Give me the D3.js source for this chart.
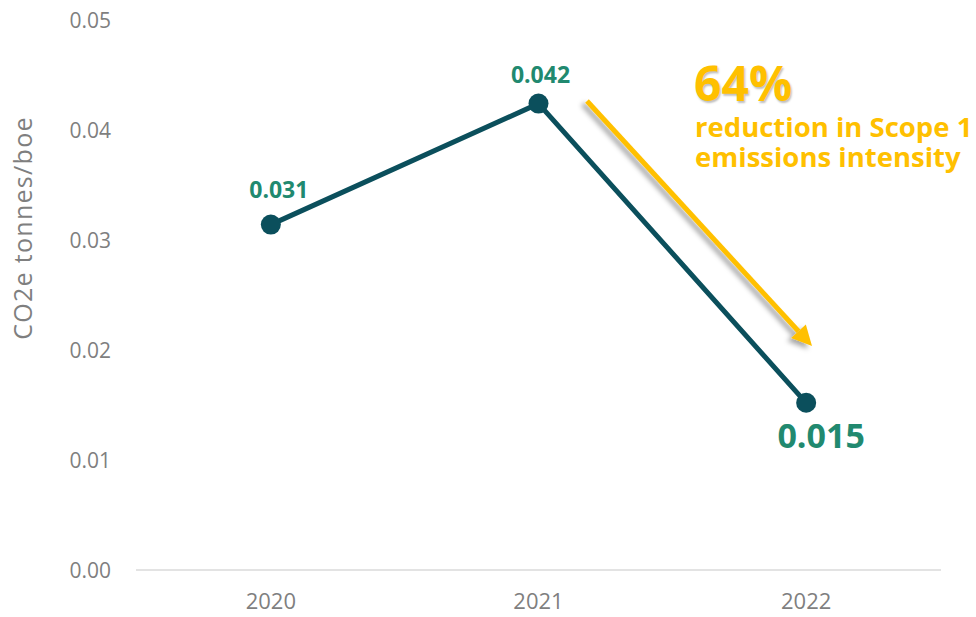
<!DOCTYPE html>
<html>
<head>
<meta charset="utf-8">
<script src="https://cdn.jsdelivr.net/npm/d3@7"></script>
<style>
  html, body { margin: 0; padding: 0; background: #fff; }
  svg { display: block; font-family: "Open Sans", "Noto Sans", sans-serif; }
</style>
</head>
<body>
<svg id="chart" width="976" height="617"></svg>
<script>
// Scope 1 emissions intensity by year
const years = ["2020", "2021", "2022"];
const intensity = [0.0314, 0.0424, 0.0152];
const yTicks = [0, 0.01, 0.02, 0.03, 0.04, 0.05];
const yTitle = "CO2e tonnes/boe";
const calloutPct = "64%";
const calloutLines = ["reduction in Scope 1", "emissions intensity"];

const svg = d3.select("#chart");
const defs = svg.append("defs");

const x = d3.scaleBand().domain(years).range([137, 940]);
const y = d3.scaleLinear().domain([0, 0.05]).range([570, 20]);
const cx = d => x(d) + x.bandwidth() / 2;

// baseline
svg.append("line")
  .attr("x1", 136).attr("x2", 941)
  .attr("y1", y(0)).attr("y2", y(0))
  .attr("stroke", "#e3e3e3").attr("stroke-width", 2);

// y axis labels
const yAxis = svg.append("g")
  .attr("transform", "translate(111,0)")
  .call(d3.axisLeft(y).tickValues(yTicks).tickFormat(d3.format(".2f")).tickSize(0).tickPadding(0));
yAxis.select(".domain").remove();
yAxis.attr("font-size", null).attr("font-family", null);
yAxis.selectAll("text")
  .attr("fill", "#7f7f7f").style("font-size", "21px").attr("dy", "0.34em");

// x axis labels
const xAxis = svg.append("g")
  .attr("transform", `translate(0,${y(0)})`)
  .call(d3.axisBottom(x).tickSize(0).tickPadding(23));
xAxis.select(".domain").remove();
xAxis.attr("font-size", null).attr("font-family", null);
xAxis.selectAll("text")
  .attr("fill", "#7f7f7f").style("font-size", "22px");

// y title
svg.append("text")
  .attr("transform", `translate(32,${228}) rotate(-90)`)
  .attr("text-anchor", "middle")
  .attr("fill", "#7f7f7f").style("font-size", "25px").style("letter-spacing", "1.3px")
  .text(yTitle);

// shadow for the callout arrow
const sh = defs.append("filter").attr("id", "shadow")
  .attr("x", "-20%").attr("y", "-20%").attr("width", "140%").attr("height", "140%");
sh.append("feDropShadow").attr("dx", -4).attr("dy", 3).attr("stdDeviation", 2.5)
  .attr("flood-color", "#000").attr("flood-opacity", 0.35);

const tsh = defs.append("filter").attr("id", "tshadow")
  .attr("x", "-10%").attr("y", "-10%").attr("width", "120%").attr("height", "130%");
tsh.append("feDropShadow").attr("dx", 1).attr("dy", 2).attr("stdDeviation", 1.2)
  .attr("flood-color", "#000").attr("flood-opacity", 0.25);

// series line
const pts = years.map((yr, i) => [cx(yr), y(intensity[i])]);
svg.append("path")
  .attr("d", d3.line()(pts))
  .attr("fill", "none").attr("stroke", "#0b4f5c").attr("stroke-width", 5)
  .attr("stroke-linejoin", "round");

svg.selectAll("circle.pt").data(pts).join("circle")
  .attr("class", "pt")
  .attr("cx", d => d[0]).attr("cy", d => d[1]).attr("r", 10)
  .attr("fill", "#0b4f5c");

// value labels
const fmt = d3.format(".3f");
const labelStyle = [
  { dx: 8, dy: -27, size: 23 },
  { dx: 2, dy: -21, size: 23 },
  { dx: 15, dy: 45, size: 34 }
];
years.forEach((yr, i) => {
  const s = labelStyle[i];
  svg.append("text")
    .attr("x", cx(yr) + s.dx).attr("y", y(intensity[i]) + s.dy)
    .attr("text-anchor", "middle")
    .attr("font-weight", 700).style("font-size", s.size + "px")
    .attr("fill", "#21896f")
    .text(fmt(intensity[i]));
});

// callout arrow
const ax1 = 587, ay1 = 101, ax2 = 812, ay2 = 346;
const ang = Math.atan2(ay2 - ay1, ax2 - ax1);
const headLen = 20, headW = 10;
const bx = ax2 - headLen * Math.cos(ang), by = ay2 - headLen * Math.sin(ang);
const arrow = svg.append("g").attr("filter", "url(#shadow)");
arrow.append("line")
  .attr("x1", ax1).attr("y1", ay1).attr("x2", bx).attr("y2", by)
  .attr("stroke", "#ffc000").attr("stroke-width", 5);
arrow.append("path")
  .attr("d", `M${ax2},${ay2} L${bx + headW * Math.sin(ang)},${by - headW * Math.cos(ang)} L${bx - headW * Math.sin(ang)},${by + headW * Math.cos(ang)} Z`)
  .attr("fill", "#ffc000");

// callout text: headline figure plus two lines, set as one block
const callout = svg.append("text")
  .attr("fill", "#ffc000").attr("font-weight", 700)
  .attr("x", 694).attr("y", 101);
callout.append("tspan")
  .attr("x", 694).attr("y", 101)
  .style("font-size", "48px")
  .style("text-shadow", "1px 2px 2px rgba(0,0,0,0.25)")
  .text(calloutPct);
calloutLines.forEach((t, i) => {
  callout.append("tspan")
    .attr("x", 695).attr("y", 137 + i * 30)
    .style("font-size", "27.5px")
    .text(t);
});
</script>
</body>
</html>
